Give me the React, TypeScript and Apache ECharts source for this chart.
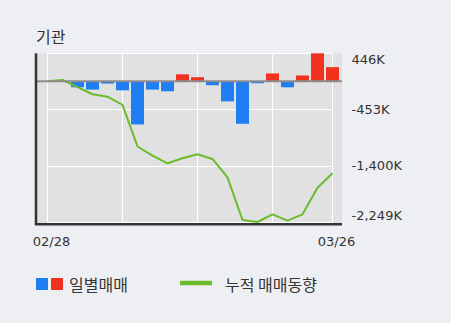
import React, { useEffect, useRef } from "react";
import * as echarts from "echarts";

const dates = [
  "02/28", "03/02", "03/03", "03/04", "03/05", "03/06", "03/09", "03/10", "03/11", "03/12",
  "03/13", "03/16", "03/17", "03/18", "03/19", "03/20", "03/23", "03/24", "03/25", "03/26",
];
// 일별매매 (thousand shares)
const dailyNet = [0, 0, -97, -134, -37, -145, -690, -134, -161, 110, 64, -64, -322, -680, -32, 124, -97, 92, 446, 225];
// 누적 매매동향 (thousand shares)
const cumulative = [0, 19, -93, -208, -248, -377, -1043, -1187, -1311, -1231, -1167, -1242, -1535, -2217, -2249, -2126, -2228, -2126, -1701, -1471];
// y tick labels, bottom to top
const yTickLabels = ["-2,249K", "-1,400K", "-453K", "446K"];
const yMin = -2249;
const yMax = 446;

const W = 451;
const H = 323;
const GRID_LEFT = 47.5;
const GRID_RIGHT = 118.5;
const GRID_TOP = 53.3;
const GRID_BOTTOM = 101;

const RED = "#f0321e";
const BLUE = "#1e7ef2";
const GREEN = "#6cbb2c";
const FONT = "'DejaVu Sans', 'Noto Sans CJK KR', sans-serif";
const KFONT = "'Noto Sans CJK KR', sans-serif";

export default function App() {
  const ref = useRef<HTMLDivElement>(null);
  useEffect(() => {
    document.body.style.margin = "0";
    if (!ref.current) return;
    const chart = echarts.init(ref.current, undefined, { renderer: "svg" });
    const interval = (yMax - yMin) / 3;
    chart.setOption({
      animation: false,
      backgroundColor: "#eeeff3",
      grid: { left: GRID_LEFT, right: GRID_RIGHT, top: GRID_TOP, bottom: GRID_BOTTOM },
      xAxis: {
        type: "category",
        data: dates,
        boundaryGap: false,
        axisLine: { show: false },
        axisTick: { show: false },
        splitLine: {
          show: true,
          interval: (i: number) => i % 5 === 0 || i === dates.length - 1,
          lineStyle: { color: "#ffffff", width: 1 },
        },
        axisLabel: {
          interval: (i: number) => i === 0 || i === dates.length - 1,
          color: "#333",
          fontFamily: FONT,
          fontSize: 13,
          margin: 13,
          padding: [0, 0, 0, 8],
        },
      },
      yAxis: {
        type: "value",
        position: "right",
        min: yMin,
        max: yMax,
        interval,
        axisLine: { show: false },
        axisTick: { show: false },
        splitLine: { lineStyle: { color: "#ffffff", width: 1 } },
        axisLabel: {
          color: "#333",
          fontFamily: FONT,
          fontSize: 13,
          margin: 19,
          verticalAlignMinLabel: "bottom",
          verticalAlignMaxLabel: "top",
          formatter: (v: number) => {
            const idx = Math.round((v - yMin) / interval);
            return yTickLabels[idx] ?? "";
          },
        },
      },
      series: [
        {
          type: "bar",
          name: "일별매매",
          data: dailyNet.map((v) => ({
            value: v,
            itemStyle: { color: v >= 0 ? RED : BLUE },
          })),
          barWidth: 13,
          z: 2,
        },
        {
          type: "line",
          name: "누적 매매동향",
          data: cumulative,
          symbol: "none",
          lineStyle: { color: GREEN, width: 2 },
          itemStyle: { color: GREEN },
          z: 3,
        },
      ],
    });

    const y0 = chart.convertToPixel({ yAxisIndex: 0 }, 0) as number;
    const yT = chart.convertToPixel({ yAxisIndex: 0 }, yMax) as number;
    const yB = chart.convertToPixel({ yAxisIndex: 0 }, yMin) as number;
    const frameL = GRID_LEFT - 11.5;
    const frameR = W - GRID_RIGHT + 9.5;

    chart.setOption({
      graphic: [
        {
          type: "rect",
          z: -10,
          silent: true,
          shape: { x: frameL, y: yT, width: frameR - frameL, height: yB - yT + 1 },
          style: { fill: "#e1e1e1" },
        },
        {
          type: "line",
          z: 10,
          silent: true,
          shape: { x1: frameL, y1: y0, x2: frameR, y2: y0 },
          style: { stroke: "#8c8c8c", lineWidth: 2 },
        },
        {
          type: "line",
          z: 10,
          silent: true,
          shape: { x1: frameL, y1: yT, x2: frameL, y2: yB + 3 },
          style: { stroke: "#333", lineWidth: 2.5 },
        },
        {
          type: "line",
          z: 10,
          silent: true,
          shape: { x1: frameL - 1, y1: yB + 2.2, x2: frameR, y2: yB + 2.2 },
          style: { stroke: "#333", lineWidth: 2.5 },
        },
        {
          type: "text",
          left: 36,
          top: 28,
          style: { text: "기관", font: `16px ${KFONT}`, fill: "#333" },
        },
        {
          type: "rect",
          shape: { x: 36, y: 278, width: 12, height: 12 },
          style: { fill: BLUE },
        },
        {
          type: "rect",
          shape: { x: 51, y: 278, width: 12, height: 12 },
          style: { fill: RED },
        },
        {
          type: "text",
          x: 69,
          y: 284,
          style: { text: "일별매매", font: `16px ${KFONT}`, fill: "#333", verticalAlign: "middle" },
        },
        {
          type: "line",
          shape: { x1: 180, y1: 283, x2: 212, y2: 283 },
          style: { stroke: GREEN, lineWidth: 4.5 },
        },
        {
          type: "text",
          x: 225,
          y: 284,
          style: { text: "누적 매매동향", font: `16px ${KFONT}`, fill: "#333", verticalAlign: "middle" },
        },
      ],
    });

    return () => chart.dispose();
  }, []);
  return <div ref={ref} style={{ width: W, height: H }} />;
}
